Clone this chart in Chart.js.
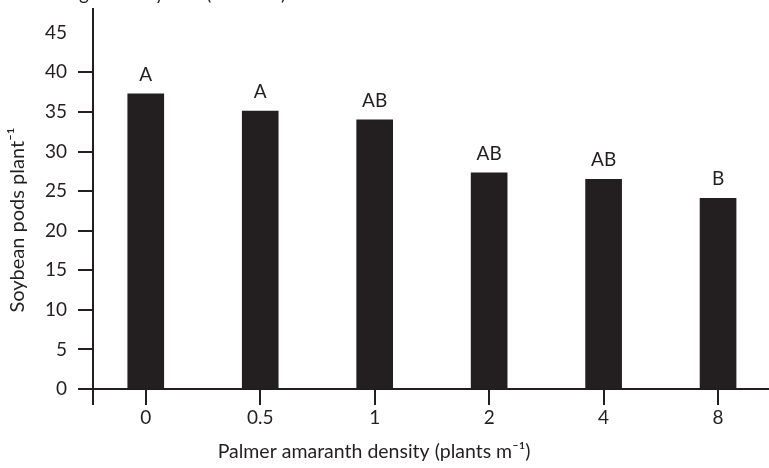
<html>
  <head>
    <script src="https://cdn.jsdelivr.net/npm/chart.js@4.4.1/dist/chart.umd.min.js"></script>
    <style>
      body { margin: 0; background: #fff; overflow: hidden; }
    </style>
  </head>
  <body>
    <canvas id="podsChart" width="769" height="468"></canvas>
    <script>
// density levels, pods per plant and the significance letters
const densities = ["0", "0.5", "1", "2", "4", "8"];
const podsPerPlant = [37.3, 35.1, 34.0, 27.3, 26.5, 24.1];
const letters = ["A", "A", "AB", "AB", "AB", "B"];
const yTicks = [0, 5, 10, 15, 20, 25, 30, 35, 40, 45];
const yTitle = "Soybean pods plant⁻¹";
const xTitle = "Palmer amaranth density (plants m⁻¹)";
const noteText = "Means followed by the same letter are not different according to Tukey test (P = 0.05)";

const ink = '#231f20';
const fontFamily = 'Lato, "DejaVu Sans", sans-serif';

// letters above the bars, axis titles, y axis stub below the x axis, cut note at the top
const extras = {
  id: 'extras',
  afterDatasetsDraw(chart) {
    const ctx = chart.ctx;
    const meta = chart.getDatasetMeta(0);
    const area = chart.chartArea;
    ctx.save();
    ctx.fillStyle = ink;
    ctx.font = '19px ' + fontFamily;
    ctx.textAlign = 'center';
    ctx.textBaseline = 'alphabetic';
    meta.data.forEach((bar, i) => {
      ctx.fillText(letters[i], bar.x, bar.y - 13);
    });

    ctx.strokeStyle = ink;
    ctx.lineWidth = 2;
    ctx.beginPath();
    ctx.moveTo(area.left, area.bottom);
    ctx.lineTo(area.left, area.bottom + 16);
    ctx.stroke();

    // note above the chart, cut off by the picture edge
    ctx.textAlign = 'right';
    ctx.fillText(noteText, 286, -0.5);

    // x title sits left of the plot centre in the original
    ctx.textAlign = 'center';
    ctx.textBaseline = 'middle';
    ctx.font = '19.5px ' + fontFamily;
    ctx.fillText(xTitle, 374, 452);

    ctx.save();
    ctx.translate(18, 220);
    ctx.rotate(-Math.PI / 2);
    ctx.font = '20px ' + fontFamily;
    ctx.fillText(yTitle, 0, 0);
    ctx.restore();
    ctx.restore();
  }
};

const chart = new Chart(document.getElementById('podsChart').getContext('2d'), {
  type: 'bar',
  data: {
    datasets: [{
      data: podsPerPlant.map((v, i) => ({x: i, y: v})),
      backgroundColor: ink,
      borderWidth: 0,
      barThickness: 36
    }]
  },
  options: {
    responsive: false,
    animation: false,
    layout: {padding: {top: 9, right: 0, left: 0, bottom: 0}},
    plugins: {legend: {display: false}, tooltip: {enabled: false}},
    scales: {
      x: {
        type: 'linear',
        min: -0.461,
        max: 5.445,
        offset: false,
        afterBuildTicks: scale => {
          scale.ticks = densities.map((d, i) => ({value: i}));
        },
        afterFit: scale => {
          scale.height = 79;
          scale.paddingLeft = 0;
          scale.paddingRight = 0;
        },
        grid: {drawOnChartArea: false, offset: false, tickLength: 16, color: ink, lineWidth: 2},
        border: {color: ink, width: 2},
        ticks: {
          color: ink,
          padding: 1,
          maxRotation: 0,
          font: {family: fontFamily, size: 19},
          callback: value => densities[value]
        }
      },
      y: {
        min: 0,
        max: 48,
        afterBuildTicks: scale => {
          scale.ticks = yTicks.map(v => ({value: v}));
        },
        afterFit: scale => {
          scale.width = 93;
          scale.paddingTop = 0;
          scale.paddingBottom = 0;
        },
        grid: {
          drawOnChartArea: false,
          tickLength: 15,
          lineWidth: 2,
          color: ink,
          tickColor: c => (c.tick && c.tick.value > 40) ? 'rgba(0,0,0,0)' : ink
        },
        border: {color: ink, width: 2},
        ticks: {
          color: ink,
          padding: 11,
          font: {family: fontFamily, size: 19}
        }
      }
    }
  },
  plugins: [extras]
});
    </script>
  </body>
</html>
